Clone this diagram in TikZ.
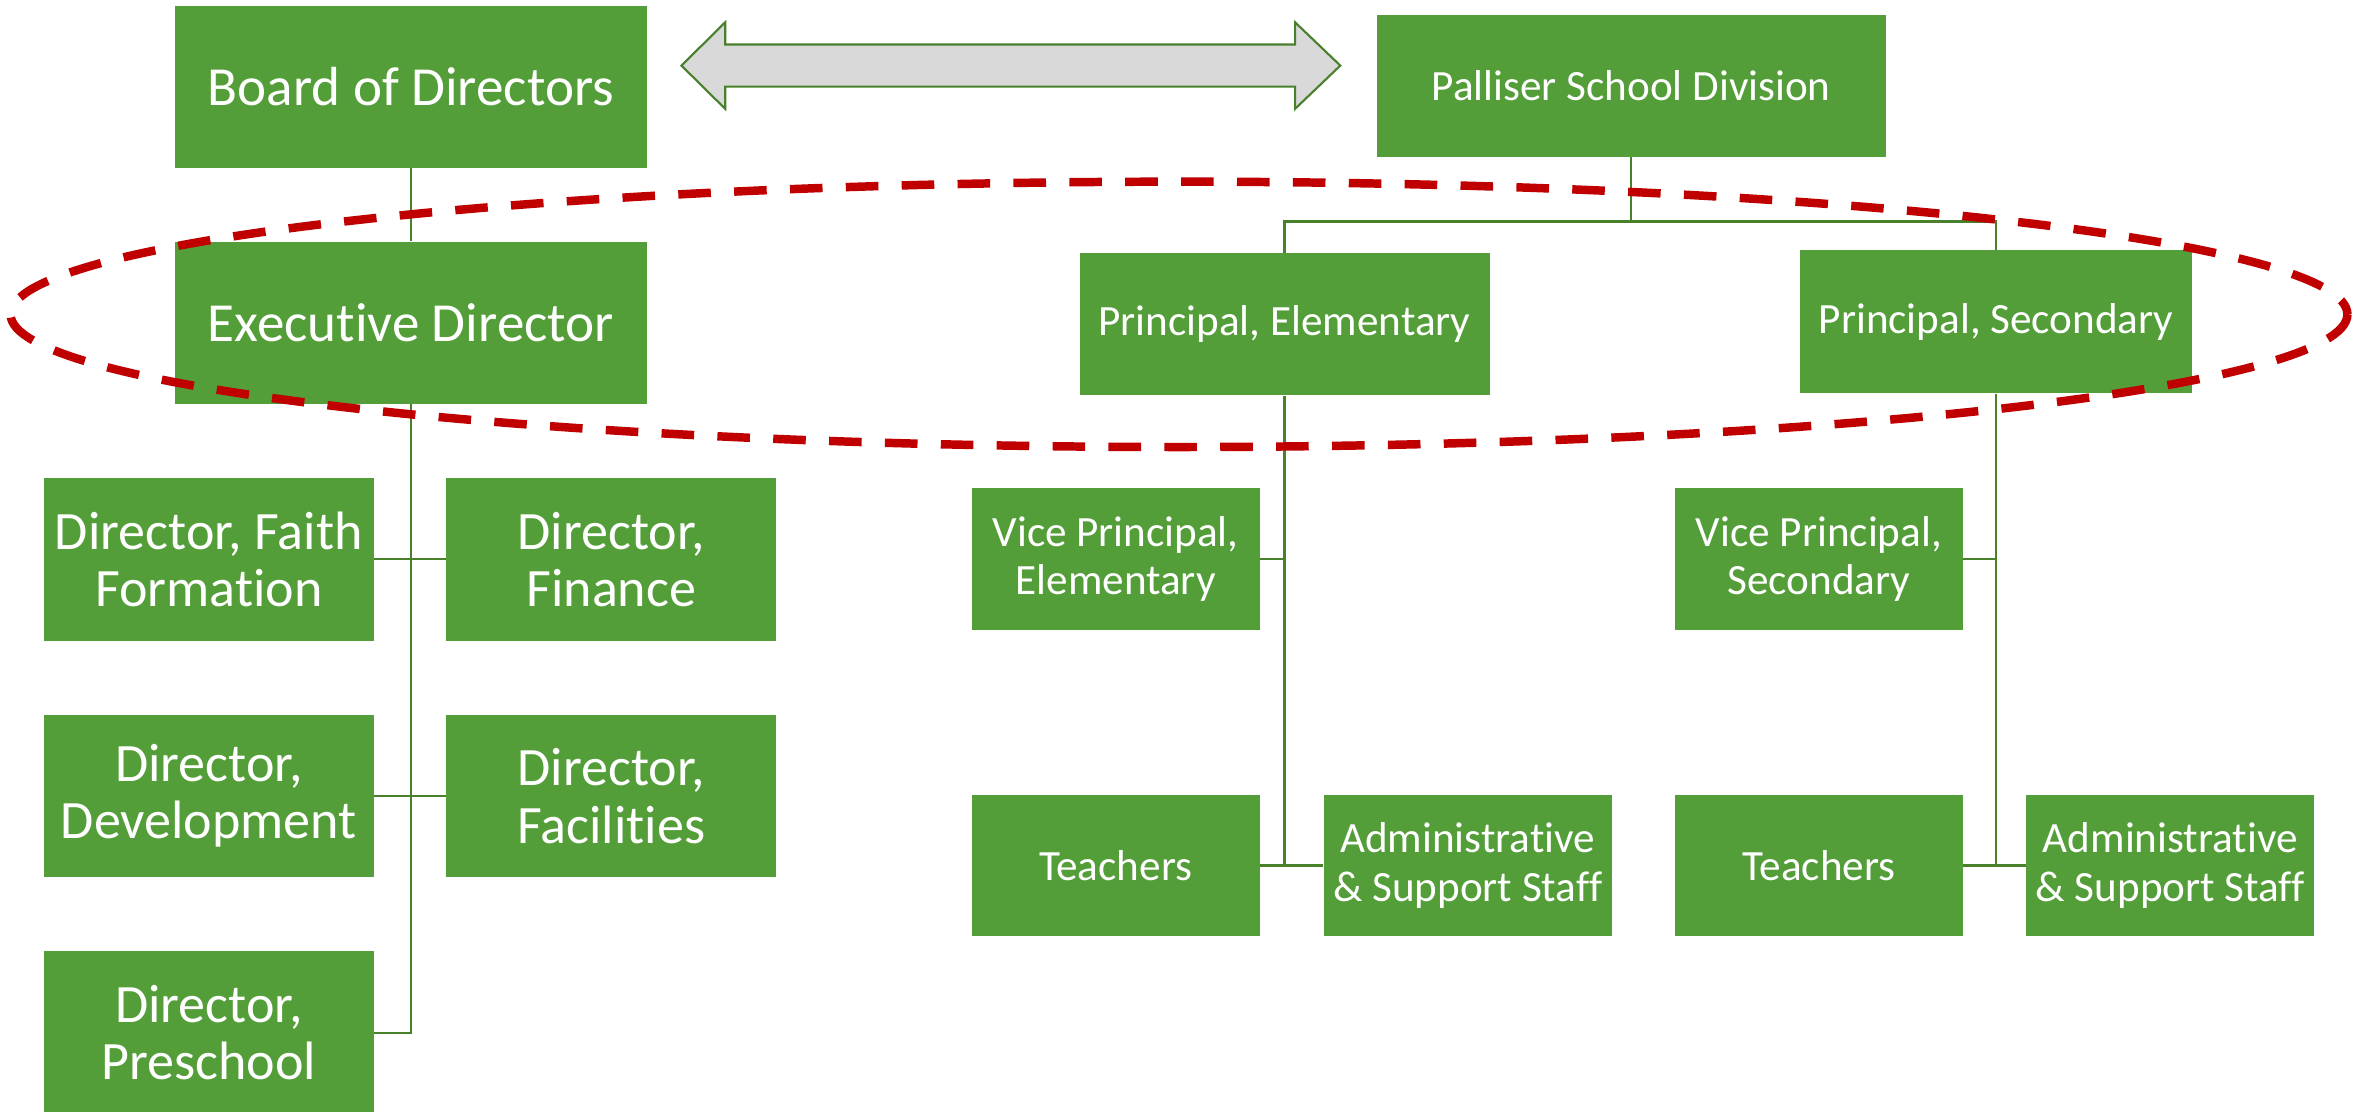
\documentclass[tikz,border=0pt]{standalone}
\usepackage{fontspec}
\setmainfont[Ligatures=NoCommon]{Carlito}
\usepackage{tikz}
\definecolor{boxgreen}{RGB}{84,158,57}
\definecolor{linegreen}{RGB}{72,128,44}
\definecolor{ovalred}{RGB}{192,0,0}
\definecolor{arrowgray}{RGB}{217,217,217}

\begin{document}
\begin{tikzpicture}[x=0.02cm, y=-0.02cm,
    box/.style={fill=boxgreen, text=white, align=center, inner sep=0pt},
    topbox/.style={box, minimum width=6.26cm, minimum height=2.15cm, font=\fontsize{20.8}{23}\selectfont},
    dirbox/.style={box, minimum width=4.38cm, minimum height=2.16cm, font=\fontsize{20.4}{21.6}\selectfont},
    headbox/.style={box, minimum height=1.88cm, font=\fontsize{16.3}{18.2}\selectfont},
    staffbox/.style={box, minimum width=3.82cm, minimum height=1.88cm, font=\fontsize{16.3}{18.2}\selectfont},
    link/.style={draw=linegreen, line width=0.85pt}]
        \useasboundingbox (0,0) rectangle (1568,737.5);
        \node[topbox] (board) at (272.5,57.5) {Board of Directors};
        \node[topbox] (exec) at (272.5,214) {Executive Director};
        \node[headbox, minimum width=6.76cm] (psd) at (1082,57) {Palliser School Division};
        \node[headbox, minimum width=5.44cm] (pe) at (852,215) {Principal, Elementary};
        \node[headbox, minimum width=5.2cm, minimum height=1.9cm] (ps) at (1324,213.5) {Principal, Secondary};
        \node[dirbox] (faith) at (138.5,371) {Director, Faith\\Formation};
        \node[dirbox] (finance) at (405.5,371) {Director,\\Finance};
        \node[dirbox] (devel) at (138.5,528) {Director,\\Development};
        \node[dirbox] (facil) at (405.5,528) {Director,\\Facilities};
        \node[dirbox] (presch) at (138.5,685) {Director,\\Preschool};
        \node[staffbox] (vpe) at (740,371) {Vice Principal,\\Elementary};
        \node[staffbox] (teache) at (740,574) {Teachers};
        \node[staffbox] (admine) at (973.5,574) {Administrative\\\& Support Staff};
        \node[staffbox] (vps) at (1206.5,371) {Vice Principal,\\Secondary};
        \node[staffbox] (teachs) at (1206.5,574) {Teachers};
        \node[staffbox] (admins) at (1439.5,574) {Administrative\\\& Support Staff};
        \coordinate (split) at (1082,147);
        \filldraw[fill=arrowgray, draw=linegreen, line width=0.8pt] (452,43.5) -- (481,14.8) -- (481,29.5) -- (859,29.5) -- (859,14.8) -- (889,43.5) -- (859,72.2) -- (859,57.5) -- (481,57.5) -- (481,72.2) -- cycle;
        \draw[link] (board) -- (exec);
        \draw[link] (exec.south) |- (presch.east);
        \draw[link] (faith) -- (finance);
        \draw[link] (devel) -- (facil);
        \draw[link] (psd.south) -- (split) -| (pe.north);
        \draw[link] (split) -| (ps.north);
        \draw[link] (pe.south) -- (pe.south |- teache.east);
        \draw[link] (vpe.east) -- (vpe.east -| pe.south);
        \draw[link] (teache) -- (admine);
        \draw[link] (ps.south) -- (ps.south |- teachs.east);
        \draw[link] (vps.east) -- (vps.east -| ps.south);
        \draw[link] (teachs) -- (admins);
        \draw[ovalred, line width=3.2pt, dash pattern=on 12.3pt off 8.8pt] (782,208.5) ellipse [x radius=775, y radius=88];
      \end{tikzpicture}
\end{document}
